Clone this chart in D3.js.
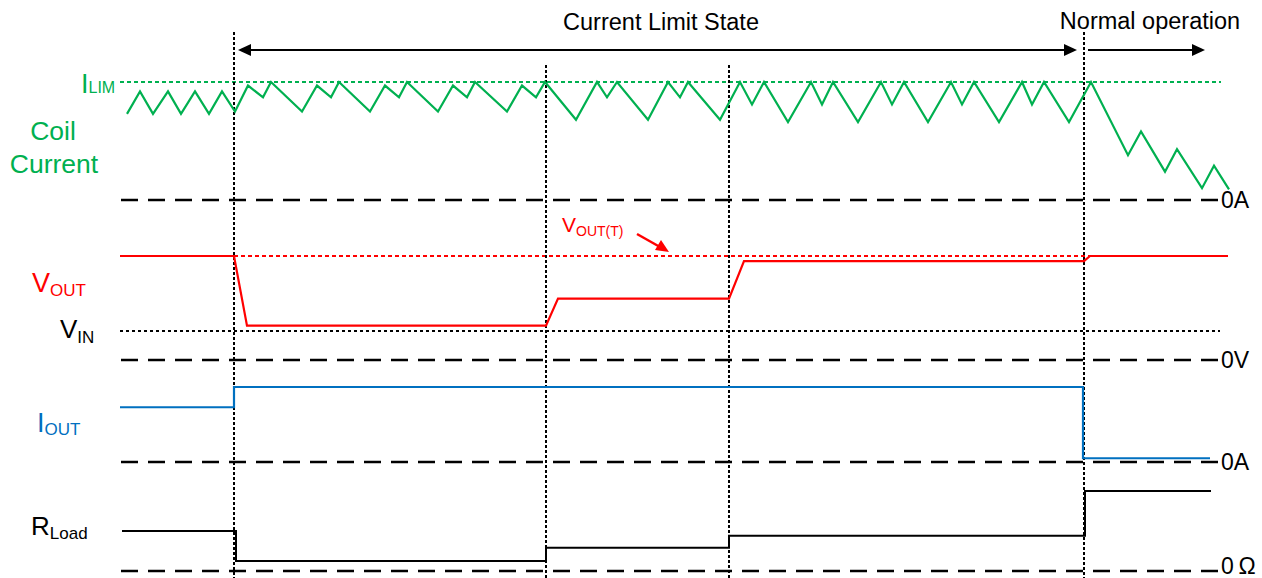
<!DOCTYPE html>
<html>
<head>
<meta charset="utf-8">
<script src="https://cdn.jsdelivr.net/npm/d3@7"></script>
<style>
  body { margin: 0; background: #fff; }
  svg { font-family: "Liberation Sans", Arial, sans-serif; }
</style>
</head>
<body>
<div id="chart"></div>
<script>
'use strict';

// time axis (arbitrary units), event instants where the dotted markers sit
const eventT = [114, 426, 609, 964];
const eventStartsHigh = [true, false, false, true];

// coil current, normalised to ILIM = 1
const coilT = [7, 20, 33, 48, 61, 75, 89, 102, 115, 128, 143, 151, 182, 197, 211, 219,
  250, 265, 279, 287, 318, 333, 347, 355, 387, 402, 416, 425, 456, 477, 487, 497,
  528, 548, 560, 568, 600, 620, 632, 644, 668, 691, 702, 713, 738, 761, 772, 784,
  808, 831, 842, 854, 879, 902, 912, 924, 949, 971, 1008, 1021, 1045, 1057, 1082, 1094, 1109];
const coilI = [0.73, 0.92, 0.73, 0.92, 0.73, 0.92, 0.73, 0.92, 0.75, 0.97, 0.87, 1.0, 0.75, 0.97, 0.87, 1.0,
  0.75, 0.97, 0.87, 1.0, 0.75, 0.97, 0.87, 1.0, 0.75, 0.97, 0.87, 1.0, 0.68, 1.0, 0.87, 1.0,
  0.68, 1.0, 0.87, 1.0, 0.68, 1.0, 0.81, 1.0, 0.66, 1.0, 0.81, 1.0, 0.66, 1.0, 0.81, 1.0,
  0.66, 1.0, 0.81, 1.0, 0.66, 1.0, 0.81, 1.0, 0.66, 1.0, 0.38, 0.58, 0.24, 0.43, 0.10, 0.29, 0.09];
const iLim = 1.0;

// output voltage, normalised to VOUT(T) = 1
const voutT = [0, 114, 127, 426, 438, 609, 624, 964, 970, 1108];
const voutV = [1.0, 1.0, 0.33, 0.33, 0.59, 0.59, 0.95, 0.95, 1.0, 1.0];
const vIn = 0.28;
const voutTarget = 1.0;

// output current
const ioutT = [0, 114, 114, 963, 963, 1090];
const ioutI = [0.73, 0.73, 1.0, 1.0, 0.05, 0.05];

// load resistance
const rloadT = [2, 116, 116, 426, 426, 609, 609, 965, 965, 1091];
const rloadR = [0.5, 0.5, 0.125, 0.125, 0.29, 0.29, 0.44, 0.44, 1.0, 1.0];

const zeroLabels = ["0A", "0V", "0A", "0\u202FΩ"];

const width = 1262, height = 578;
const green = "#00b050", red = "#ff0000", blue = "#0070c0";

const svg = d3.select("#chart").append("svg")
  .attr("width", width)
  .attr("height", height);

const x = d3.scaleLinear().domain([0, 1110]).range([120, 1230]);
const yCoil = d3.scaleLinear().domain([0, 1]).range([200, 82]);
const yVout = d3.scaleLinear().domain([0, 1]).range([360, 256]);
const yIout = d3.scaleLinear().domain([0, 1]).range([462, 387]);
const yRload = d3.scaleLinear().domain([0, 1]).range([571, 491]);

function trace(ts, vs, yScale, colour, w)
{
  const line = d3.line().x(function(d) { return x(d[0]); }).y(function(d) { return yScale(d[1]); });
  svg.append("path")
    .datum(d3.zip(ts, vs))
    .attr("d", line)
    .attr("fill", "none")
    .attr("stroke", colour)
    .attr("stroke-width", w || 2)
    .attr("stroke-linejoin", "miter");
}

function hline(t0, t1, yv, colour, dash, w)
{
  svg.append("line")
    .attr("x1", x(t0)).attr("x2", x(t1))
    .attr("y1", yv).attr("y2", yv)
    .attr("stroke", colour)
    .attr("stroke-width", w)
    .attr("stroke-dasharray", dash);
}

/* zero lines */
const zeroScales = [yCoil, yVout, yIout, yRload];
zeroScales.forEach(function(s, i) {
  hline(1, 1102, s(0), "black", "17,10", 2.5);
  svg.append("text")
    .attr("x", x(1101))
    .attr("y", Math.min(s(0) + 8, height - 4))
    .attr("font-size", 23)
    .text(zeroLabels[i]);
});

/* reference levels */
hline(0, 1101, yCoil(iLim), green, "4,3", 2);
hline(114, 1102, yVout(voutTarget), red, "4,3", 2);
hline(0, 1100, yVout(vIn), "black", "3,3", 2);

/* event markers */
eventT.forEach(function(t, i) {
  svg.append("line")
    .attr("x1", x(t)).attr("x2", x(t))
    .attr("y1", eventStartsHigh[i] ? 32 : 65).attr("y2", height)
    .attr("stroke", "black")
    .attr("stroke-width", 2)
    .attr("stroke-dasharray", "3,2");
});

/* traces */
trace(coilT, coilI, yCoil, green, 2.2);
trace(voutT, voutV, yVout, red, 2.2);
trace(ioutT, ioutI, yIout, blue, 2.2);
trace(rloadT, rloadR, yRload, "black", 2);

/* arrows */
function arrowHead(tipX, tipY, dir, len, half)
{
  svg.append("path")
    .attr("d", `M${tipX},${tipY} L${tipX - dir * len},${tipY - half} L${tipX - dir * len},${tipY + half} Z`)
    .attr("fill", "black");
}

const arrowY = 50;
svg.append("line")
  .attr("x1", x(eventT[0]) + 10).attr("x2", x(eventT[3]) - 14)
  .attr("y1", arrowY).attr("y2", arrowY)
  .attr("stroke", "black").attr("stroke-width", 2.2);
arrowHead(x(eventT[0]) + 4, arrowY, -1, 13, 6);
arrowHead(x(eventT[3]) - 7, arrowY, 1, 13, 6);

svg.append("line")
  .attr("x1", x(eventT[3]) + 4).attr("x2", x(1075))
  .attr("y1", arrowY).attr("y2", arrowY)
  .attr("stroke", "black").attr("stroke-width", 2.2);
arrowHead(x(1085), arrowY, 1, 13, 6);

svg.append("text")
  .attr("x", (x(eventT[0]) + x(eventT[3])) / 2 + 2)
  .attr("y", 30)
  .attr("text-anchor", "middle")
  .attr("font-size", 23.5)
  .text("Current Limit State");

svg.append("text")
  .attr("x", 1150)
  .attr("y", 29)
  .attr("text-anchor", "middle")
  .attr("font-size", 23.5)
  .text("Normal operation");

/* VOUT(T) callout */
svg.append("line")
  .attr("x1", 637).attr("y1", 234)
  .attr("x2", 660).attr("y2", 247)
  .attr("stroke", red).attr("stroke-width", 2.5);
svg.append("path")
  .attr("d", "M669,252 L655,250 L661,240 Z")
  .attr("fill", red);

/* labels with subscripts */
function subLabel(xp, yp, main, sub, colour, size, subSize, shift)
{
  const t = svg.append("text")
    .attr("x", xp).attr("y", yp)
    .attr("fill", colour)
    .attr("font-size", size);
  t.append("tspan").text(main);
  t.append("tspan")
    .attr("font-size", subSize)
    .attr("dy", shift)
    .text(sub);
}

subLabel(81, 93, "I", "LIM", green, 27, 16, 0);
subLabel(562, 232, "V", "OUT(T)", red, 21, 14, 4);
subLabel(32, 292, "V", "OUT", red, 27, 17, 4);
subLabel(60, 338, "V", "IN", "black", 26, 17, 5);
subLabel(37, 432, "I", "OUT", blue, 27, 17, 3);
subLabel(31, 535, "R", "Load", "black", 26, 17, 4);

svg.append("text")
  .attr("x", 53).attr("y", 140)
  .attr("text-anchor", "middle")
  .attr("fill", green)
  .attr("font-size", 26.5)
  .text("Coil");
svg.append("text")
  .attr("x", 54).attr("y", 173)
  .attr("text-anchor", "middle")
  .attr("fill", green)
  .attr("font-size", 26.5)
  .text("Current");
</script>
</body>
</html>
